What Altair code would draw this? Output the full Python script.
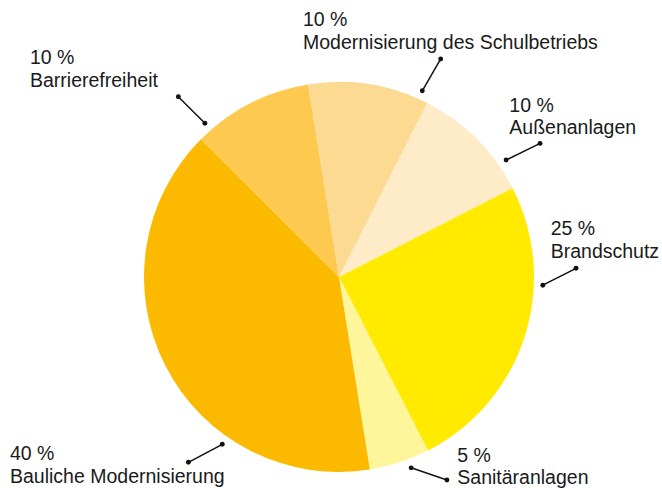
import math
import altair as alt
import pandas as pd

# ---- data ----
categories = ["Außenanlagen", "Brandschutz", "Sanitäranlagen",
              "Bauliche Modernisierung", "Barrierefreiheit",
              "Modernisierung des Schulbetriebs"]
shares = [10, 25, 5, 40, 10, 10]
colors = ["#FEECC9", "#FFEA00", "#FFF59A", "#FBB900", "#FDC94F", "#FDDA92"]

# ---- layout (pixels / degrees) ----
CX, CY, R = 339, 277, 195
START = math.radians(26.9)
FONT = "Liberation Sans"
FS = 19.5
LINE = 22.5
label_x = [509.3, 550.7, 457.3, 10, 30, 303]
label_base = [111.7, 235, 461.7, 460, 64.3, 26]
lead_in_angle = [55.0, 92.3, 159.3, 214.9, 318.9, 24.1]
lead_out_angle = [56.4, 87.9, 152.0, 219.1, 318.3, 25.0]
lead_out_r = [241.4, 237.2, 229.9, 238.8, 241.5, 240.6]
LEAD_IN_R = 204

df = pd.DataFrame({
    "cat": categories,
    "share": shares,
    "idx": list(range(len(categories))),
    "pct": [f"{s} %" for s in shares],
    "lx": label_x,
    "lb": label_base,
    "lb2": [b + LINE for b in label_base],
    "a1": lead_in_angle,
    "a2": lead_out_angle,
    "r2": lead_out_r,
})

base = alt.Chart(df)

pie = base.mark_arc(outerRadius=R, strokeWidth=0).encode(
    theta=alt.Theta("share:Q", stack=True,
                    scale=alt.Scale(range=[START, START + 2 * math.pi])),
    order=alt.Order("idx:Q"),
    color=alt.Color("cat:N", legend=None,
                    scale=alt.Scale(domain=categories, range=colors)),
    x=alt.value(CX),
    y=alt.value(CY),
)

lead = base.transform_calculate(
    x1=f"{CX} + {LEAD_IN_R} * sin(datum.a1 * PI / 180)",
    y1=f"{CY} - {LEAD_IN_R} * cos(datum.a1 * PI / 180)",
    x2=f"{CX} + datum.r2 * sin(datum.a2 * PI / 180)",
    y2=f"{CY} - datum.r2 * cos(datum.a2 * PI / 180)",
)

rules = lead.mark_rule(color="#111111", strokeWidth=1.5).encode(
    x=alt.X("x1:Q", scale=None), y=alt.Y("y1:Q", scale=None),
    x2="x2:Q", y2="y2:Q",
)
dots_in = lead.mark_circle(color="#111111", opacity=1, size=24).encode(
    x=alt.X("x1:Q", scale=None), y=alt.Y("y1:Q", scale=None),
)
dots_out = lead.mark_circle(color="#111111", opacity=1, size=24).encode(
    x=alt.X("x2:Q", scale=None), y=alt.Y("y2:Q", scale=None),
)

txt_kw = dict(align="left", baseline="alphabetic", font=FONT,
              fontSize=FS, color="#1a1a1a")
pct_text = base.mark_text(**txt_kw).encode(
    x=alt.X("lx:Q", scale=None), y=alt.Y("lb:Q", scale=None), text="pct:N",
)
name_text = base.mark_text(**txt_kw).encode(
    x=alt.X("lx:Q", scale=None), y=alt.Y("lb2:Q", scale=None), text="cat:N",
)

chart = alt.layer(pie, rules, dots_in, dots_out, pct_text, name_text).properties(
    width=662, height=488,
    autosize=alt.AutoSizeParams(type="none"),
    padding=0,
    background="white",
).configure_view(stroke=None)

chart.save("out.html", embed_options={"renderer": "svg", "actions": False})
